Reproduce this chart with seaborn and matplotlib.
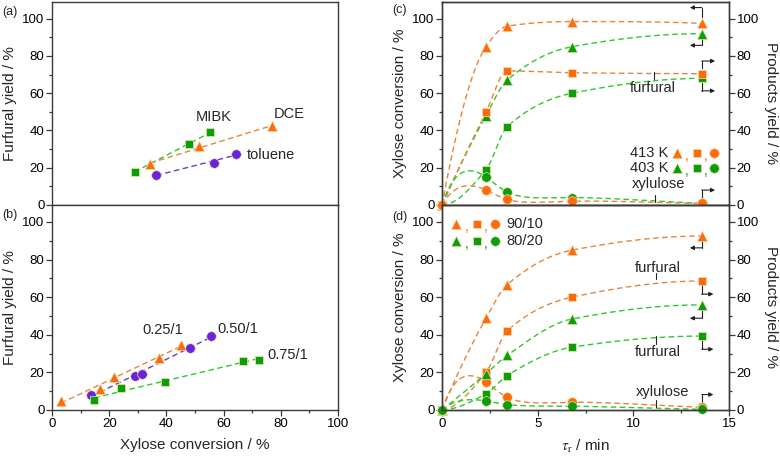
import numpy as np
import matplotlib
matplotlib.use("Agg")
import matplotlib.pyplot as plt
import seaborn as sns
from matplotlib.ticker import MultipleLocator

sns.set_theme(style="ticks")
plt.rcParams['font.family'] = ['Liberation Sans', 'DejaVu Sans']
plt.rcParams['mathtext.fontset'] = 'stix'

# ---- data ----
# (a) solvent comparison
mibk_x = [28.9, 48.0, 55.4]
mibk_y = [17.8, 33.0, 39.0]
dce_x = [34.4, 51.5, 77.0]
dce_y = [21.8, 31.9, 42.2]
tol_x = [36.5, 56.5, 64.3]
tol_y = [16.2, 22.6, 27.6]

# (b) ratio comparison
r025_x = [3.1, 16.7, 21.7, 37.3, 45.1]
r025_y = [5.0, 11.2, 17.5, 27.8, 34.8]
r050_x = [13.8, 28.9, 31.5, 48.1, 55.5]
r050_y = [8.2, 18.3, 19.2, 33.1, 39.3]
r075_x = [14.8, 24.1, 39.5, 66.6, 72.3]
r075_y = [5.3, 11.6, 14.9, 26.0, 26.7]

# (c), (d) residence time series
tau = [0, 2.3, 3.4, 6.8, 13.6]
c_conv_413 = [0, 85, 96, 98.5, 97.5]
c_furf_413 = [0, 50, 72, 71, 70.5]
c_xyl_413 = [0, 8, 3, 2, 0.8]
c_conv_403 = [0, 48, 67, 85, 92]
c_furf_403 = [0, 19, 42, 60, 68]
c_xyl_403 = [0, 15, 7, 4, 0.8]

d_conv_90 = [0, 48.8, 66.6, 85, 92.5]
d_furf_90 = [0, 20, 42, 60, 68.6]
d_xyl_90 = [0, 14.8, 6.8, 4.1, 1.4]
d_conv_80 = [0, 19.3, 29, 48.4, 55.9]
d_furf_80 = [0, 8.6, 18.3, 33.4, 39.3]
d_xyl_80 = [0, 4.8, 2.9, 2.0, 0.3]

ORANGE = '#ff6a0d'
GREEN = '#0a9e0a'
PURPLE = '#6a22dd'
L_ORANGE = '#e8843a'
L_GREEN = '#2ec82e'
L_PURPLE = '#6a3fc0'
DASH = (0, (4, 2.5))
SPINE = '#3a3a3a'
MS = {'^': 55, 's': 36, 'o': 48}
FS = 10.5
LS = 11
TS = 9.5


def hermite(x, y, m, xs):
    h = np.diff(x)
    idx = np.clip(np.searchsorted(x, xs) - 1, 0, len(x) - 2)
    s = (xs - x[idx]) / h[idx]
    return ((2 * s ** 3 - 3 * s ** 2 + 1) * y[idx] + (s ** 3 - 2 * s ** 2 + s) * h[idx] * m[idx]
            + (-2 * s ** 3 + 3 * s ** 2) * y[idx + 1] + (s ** 3 - s ** 2) * h[idx] * m[idx + 1])


def pchip(x, y, n=300):
    # shape-preserving cubic connector through the points
    x = np.asarray(x, float)
    y = np.asarray(y, float)
    h = np.diff(x)
    dl = np.diff(y) / h
    k = len(x)
    m = np.zeros(k)
    for i in range(1, k - 1):
        if dl[i - 1] * dl[i] > 0:
            w1 = 2 * h[i] + h[i - 1]
            w2 = h[i] + 2 * h[i - 1]
            m[i] = (w1 + w2) / (w1 / dl[i - 1] + w2 / dl[i])

    def end(h0, h1, d0, d1):
        v = ((2 * h0 + h1) * d0 - h0 * d1) / (h0 + h1)
        if np.sign(v) != np.sign(d0):
            return 0.0
        if np.sign(d0) != np.sign(d1) and abs(v) > 3 * abs(d0):
            return 3 * d0
        return v
    m[0] = end(h[0], h[1], dl[0], dl[1])
    m[-1] = end(h[-1], h[-2], dl[-1], dl[-2])
    xs = np.linspace(x[0], x[-1], n)
    return xs, hermite(x, y, m, xs)


def spline_log(x, y, n=300):
    # natural cubic spline on a log(1+t) axis: keeps the early maximum of the
    # intermediate without ringing in the long tail
    t = np.asarray(x, float)
    u = np.log1p(t)
    y = np.asarray(y, float)
    k = len(u)
    h = np.diff(u)
    A = np.zeros((k, k))
    r = np.zeros(k)
    A[0, 0] = A[-1, -1] = 1
    for i in range(1, k - 1):
        A[i, i - 1] = h[i - 1]
        A[i, i] = 2 * (h[i - 1] + h[i])
        A[i, i + 1] = h[i]
        r[i] = 3 * ((y[i + 1] - y[i]) / h[i] - (y[i] - y[i - 1]) / h[i - 1])
    c = np.linalg.solve(A, r)
    b = (y[1:] - y[:-1]) / h - h * (2 * c[:-1] + c[1:]) / 3
    d = (c[1:] - c[:-1]) / (3 * h)
    ts = np.linspace(t[0], t[-1], n)
    us = np.log1p(ts)
    idx = np.clip(np.searchsorted(u, us) - 1, 0, k - 2)
    w = us - u[idx]
    ys = y[idx] + b[idx] * w + c[idx] * w ** 2 + d[idx] * w ** 3
    return ts, np.clip(ys, 0, None)


def points(ax, x, y, marker, color):
    sns.scatterplot(x=x, y=y, marker=marker, s=MS[marker], color=color,
                    edgecolor='#f3e3a8', linewidth=0.5, ax=ax, zorder=4,
                    clip_on=False)


def fitline(ax, x, y, color):
    sns.regplot(x=np.array(x), y=np.array(y), scatter=False, ci=None,
                truncate=True, ax=ax, color=color,
                line_kws={'ls': DASH, 'lw': 1.0})


def curve(ax, x, y, marker, color, lcolor, peak=False):
    xs, ys = spline_log(x, y) if peak else pchip(x, y)
    ax.plot(xs, ys, ls=DASH, lw=1.0, color=lcolor, zorder=2)
    points(ax, x, y, marker, color)


def bent(ax, x, y0, y1, x1):
    ax.plot([x, x], [y0, y1], color='#222222', lw=0.8, zorder=3)
    ax.annotate('', xy=(x1, y1), xytext=(x, y1),
                arrowprops=dict(arrowstyle='-|>', color='#222222', lw=0.8,
                                mutation_scale=6, shrinkA=0, shrinkB=0))


def style(ax, xlim, xmaj, xmin, show_x=True):
    ax.set_xlim(*xlim)
    ax.set_ylim(0, 109)
    ax.xaxis.set_major_locator(MultipleLocator(xmaj))
    ax.xaxis.set_minor_locator(MultipleLocator(xmin))
    ax.yaxis.set_major_locator(MultipleLocator(20))
    ax.yaxis.set_minor_locator(MultipleLocator(10))
    ax.tick_params(which='both', direction='out', colors=SPINE,
                   labelcolor='black', labelsize=TS, width=0.9, pad=1.5)
    ax.tick_params(which='major', length=4)
    ax.tick_params(which='minor', length=2)
    if not show_x:
        ax.tick_params(axis='x', which='both', bottom=False, labelbottom=False)
    for sp in ax.spines.values():
        sp.set_visible(True)
        sp.set_color(SPINE)
        sp.set_linewidth(1.0)


fig = plt.figure(figsize=(7.8, 4.59), dpi=100)
ax_a = fig.add_axes([0.0667, 0.5534, 0.3667, 0.4423])
ax_b = fig.add_axes([0.0667, 0.1068, 0.3667, 0.4466])
ax_c = fig.add_axes([0.5667, 0.5534, 0.368, 0.4423])
ax_d = fig.add_axes([0.5667, 0.1068, 0.368, 0.4466])

# ---- (a) ----
style(ax_a, (0, 100), 20, 10, show_x=False)
fitline(ax_a, mibk_x, mibk_y, L_GREEN)
fitline(ax_a, dce_x, dce_y, L_ORANGE)
fitline(ax_a, tol_x, tol_y, L_PURPLE)
points(ax_a, mibk_x, mibk_y, 's', GREEN)
points(ax_a, dce_x, dce_y, '^', ORANGE)
points(ax_a, tol_x, tol_y, 'o', PURPLE)
ax_a.text(56.5, 47, 'MIBK', ha='center', va='center', fontsize=FS)
ax_a.text(83, 48.7, 'DCE', ha='center', va='center', fontsize=FS)
ax_a.text(68, 27, 'toluene', ha='left', va='center', fontsize=FS)
ax_a.set_ylabel('Furfural yield / %', fontsize=LS, labelpad=4)
ax_a.set_xlabel('')

# ---- (b) ----
style(ax_b, (0, 100), 20, 10)
fitline(ax_b, r025_x, r025_y, L_ORANGE)
fitline(ax_b, r050_x, r050_y, L_PURPLE)
fitline(ax_b, r075_x, r075_y, L_GREEN)
points(ax_b, r025_x, r025_y, '^', ORANGE)
points(ax_b, r050_x, r050_y, 'o', PURPLE)
points(ax_b, r075_x, r075_y, 's', GREEN)
ax_b.text(38.8, 42.7, '0.25/1', ha='center', va='center', fontsize=FS)
ax_b.text(65, 43, '0.50/1', ha='center', va='center', fontsize=FS)
ax_b.text(82.5, 29, '0.75/1', ha='center', va='center', fontsize=FS)
ax_b.set_ylabel('Furfural yield / %', fontsize=LS, labelpad=4)
ax_b.set_xlabel('Xylose conversion / %', fontsize=LS, labelpad=6)

# ---- (c) ----
style(ax_c, (0, 15), 5, 2.5, show_x=False)
curve(ax_c, tau, c_conv_413, '^', ORANGE, L_ORANGE)
curve(ax_c, tau, c_conv_403, '^', GREEN, L_GREEN)
curve(ax_c, tau, c_furf_403, 's', GREEN, L_GREEN)
curve(ax_c, tau, c_furf_413, 's', ORANGE, L_ORANGE)
curve(ax_c, tau, c_xyl_403, 'o', GREEN, L_GREEN, peak=True)
curve(ax_c, tau, c_xyl_413, 'o', ORANGE, L_ORANGE, peak=True)
ax_c.text(11.04, 63, 'furfural', ha='center', va='center', fontsize=FS)
ax_c.plot([11.1, 11.1], [67.5, 71.5], color='#222222', lw=0.8)
ax_c.text(11.3, 11.3, 'xylulose', ha='center', va='center', fontsize=FS)
ax_c.plot([11.13, 11.13], [1.8, 5.6], color='#222222', lw=0.8)
bent(ax_c, 13.57, 101, 106, 12.95)
bent(ax_c, 13.57, 89.5, 85.7, 12.95)
bent(ax_c, 13.57, 73.5, 77.3, 14.27)
bent(ax_c, 13.57, 65.5, 61.3, 14.27)
bent(ax_c, 13.57, 2.6, 8.0, 14.27)
for yy, lab, col in [(27.7, '413 K', ORANGE), (19.6, '403 K', GREEN)]:
    ax_c.text(9.82, yy, lab, ha='left', va='center', fontsize=FS)
    for xx, mk in [(12.3, '^'), (13.3, 's'), (14.23, 'o')]:
        ax_c.scatter([xx], [yy], marker=mk, s=MS[mk], color=col,
                     edgecolor='#f3e3a8', linewidth=0.5, zorder=4)
    for xx in (12.8, 13.8):
        ax_c.text(xx, yy - 1.5, ',', ha='center', va='center', fontsize=10,
                  color=col)
ax_c.set_ylabel('Xylose conversion / %', fontsize=LS, labelpad=4)
axr_c = ax_c.twinx()
style(axr_c, (0, 15), 5, 2.5, show_x=False)
axr_c.set_ylabel('Products yield / %', fontsize=LS, rotation=-90, labelpad=14)

# ---- (d) ----
style(ax_d, (0, 15), 5, 2.5)
curve(ax_d, tau, d_conv_90, '^', ORANGE, L_ORANGE)
curve(ax_d, tau, d_furf_90, 's', ORANGE, L_ORANGE)
curve(ax_d, tau, d_xyl_90, 'o', ORANGE, L_ORANGE, peak=True)
curve(ax_d, tau, d_conv_80, '^', GREEN, L_GREEN)
curve(ax_d, tau, d_furf_80, 's', GREEN, L_GREEN)
curve(ax_d, tau, d_xyl_80, 'o', GREEN, L_GREEN, peak=True)
ax_d.text(11.3, 75.5, 'furfural', ha='center', va='center', fontsize=FS)
ax_d.plot([11.16, 11.16], [69.5, 73], color='#222222', lw=0.8)
ax_d.text(11.3, 30.9, 'furfural', ha='center', va='center', fontsize=FS)
ax_d.plot([11.16, 11.16], [35, 39.5], color='#222222', lw=0.8)
ax_d.text(11.5, 9.8, 'xylulose', ha='center', va='center', fontsize=FS)
ax_d.plot([11.16, 11.16], [1.8, 5.5], color='#222222', lw=0.8)
bent(ax_d, 13.57, 90.5, 86.2, 12.95)
bent(ax_d, 13.57, 66.3, 61.6, 14.18)
bent(ax_d, 13.57, 54.0, 48.8, 12.95)
bent(ax_d, 13.57, 37.2, 32.3, 14.18)
bent(ax_d, 13.57, 2.4, 8.2, 14.18)
for yy, lab, col in [(98.7, '90/10', ORANGE), (89.8, '80/20', GREEN)]:
    for xx, mk in [(0.72, '^'), (1.83, 's'), (2.77, 'o')]:
        ax_d.scatter([xx], [yy], marker=mk, s=MS[mk], color=col,
                     edgecolor='#f3e3a8', linewidth=0.5, zorder=4)
    for xx in (1.27, 2.3):
        ax_d.text(xx, yy - 1.5, ',', ha='center', va='center', fontsize=10,
                  color=col)
    ax_d.text(3.37, yy, lab, ha='left', va='center', fontsize=FS)
ax_d.set_ylabel('Xylose conversion / %', fontsize=LS, labelpad=4)
ax_d.set_xlabel(r'$\tau_{\rm r}$ / min', fontsize=LS, labelpad=6)
axr_d = ax_d.twinx()
style(axr_d, (0, 15), 5, 2.5, show_x=False)
axr_d.set_ylabel('Products yield / %', fontsize=LS, rotation=-90, labelpad=14)

for txt, x, y in [('(a)', 2, 12), ('(b)', 2, 215), ('(c)', 392, 10), ('(d)', 392, 217)]:
    fig.text(x / 780, 1 - y / 459, txt, ha='left', va='center', fontsize=9)

fig.savefig('out.png', dpi=100)
